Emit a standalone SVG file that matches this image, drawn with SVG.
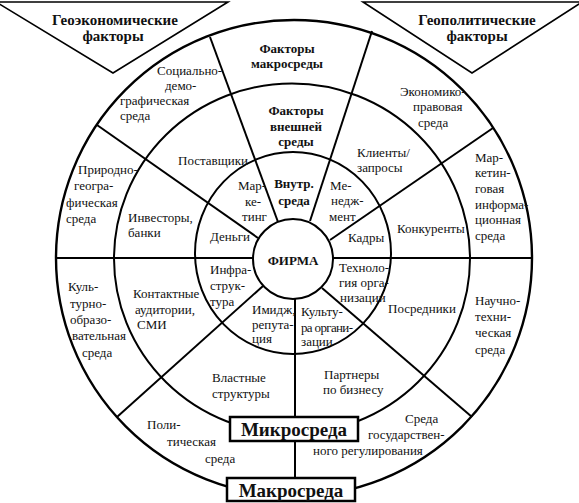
<svg xmlns="http://www.w3.org/2000/svg" width="579" height="503" viewBox="0 0 579 503">
<style>
.ln{stroke:#000;stroke-width:2;fill:none}
.bx{stroke:#000;stroke-width:2.5;fill:#fff}
.t{font-family:"Liberation Serif","Times New Roman",serif;font-size:13px;fill:#111}
.b{font-weight:bold}
.m{text-anchor:middle}
.big{font-size:19px}
.tri{font-size:15px}
</style>
<rect width="579" height="503" fill="#fff"/>
<g id="geoeconomic">
<polygon class="bx" points="-4,2 228,2 113,73" style="stroke-width:1.6"/>
<text class="t b m tri" x="115" y="25">Геоэкономические</text>
<text class="t b m tri" x="113" y="41">факторы</text>
</g>
<g id="geopolitical">
<polygon class="bx" points="363,2 582,2 472,73" style="stroke-width:1.6"/>
<text class="t b m tri" x="477" y="25">Геополитические</text>
<text class="t b m tri" x="477" y="41">факторы</text>
</g>
<g id="connectors">
<circle class="ln" cx="294" cy="258" r="238" style="stroke-width:2.4"/>
<ellipse class="ln" cx="292" cy="258.5" rx="178" ry="175"/>
<ellipse class="ln" cx="293" cy="253" rx="98" ry="101"/>
<line class="ln" x1="278" y1="222" x2="210" y2="37"/>
<line class="ln" x1="310" y1="221" x2="372" y2="31"/>
<line class="ln" x1="258" y1="238" x2="97" y2="125"/>
<line class="ln" x1="330" y1="240" x2="493" y2="128"/>
<line class="ln" x1="56" y1="258" x2="253" y2="258"/>
<line class="ln" x1="333" y1="258" x2="532" y2="258"/>
<line class="ln" x1="263" y1="286" x2="117" y2="417"/>
<line class="ln" x1="322" y1="288" x2="472" y2="417"/>
<line class="ln" x1="295" y1="299" x2="295" y2="487"/>
</g>
<g id="firma">
<circle class="ln" cx="293" cy="259" r="40" fill="#fff"/>
<text class="t b m" x="293" y="265" font-size="14">ФИРМА</text>
</g>
<g id="vnutr-sreda">
<text class="t b m" x="294" y="188">Внутр.</text>
<text class="t b m" x="294" y="205">среда</text>
</g>
<g id="marketing">
<text class="t" x="238" y="190">Мар-</text>
<text class="t" x="245" y="206">ке-</text>
<text class="t" x="242" y="221">тинг</text>
</g>
<g id="dengi"><text class="t" x="210" y="241">Деньги</text></g>
<g id="management">
<text class="t" x="330" y="190">Ме-</text>
<text class="t" x="331" y="205">недж-</text>
<text class="t" x="329" y="221">мент</text>
</g>
<g id="kadry"><text class="t" x="348" y="242">Кадры</text></g>
<g id="tekhnologiya">
<text class="t" x="339" y="272">Техноло-</text>
<text class="t" x="339" y="287">гия  орга-</text>
<text class="t" x="340" y="302">низации</text>
</g>
<g id="kultura">
<text class="t" x="301" y="316">Культу-</text>
<text class="t" x="301" y="332" textLength="52">ра органи-</text>
<text class="t" x="301" y="346">зации</text>
</g>
<g id="imidzh">
<text class="t" x="252" y="314">Имидж,</text>
<text class="t" x="252" y="329">репута-</text>
<text class="t" x="252" y="343">ция</text>
</g>
<g id="infrastruktura">
<text class="t" x="210" y="274">Инфра-</text>
<text class="t" x="210" y="290">струк-</text>
<text class="t" x="210" y="306">тура</text>
</g>
<g id="vneshnyaya">
<text class="t b m" x="296" y="115" font-size="13.5">Факторы</text>
<text class="t b m" x="296" y="131" font-size="13.5">внешней</text>
<text class="t b m" x="296" y="146" font-size="13.5">среды</text>
</g>
<g id="postavshchiki"><text class="t" x="178" y="165">Поставщики</text></g>
<g id="investory">
<text class="t" x="128" y="222">Инвесторы,</text>
<text class="t" x="128" y="237">банки</text>
</g>
<g id="kontaktnye">
<text class="t" x="133" y="298">Контактные</text>
<text class="t" x="135" y="314">аудитории,</text>
<text class="t" x="137" y="329">СМИ</text>
</g>
<g id="vlastnye">
<text class="t" x="212" y="382">Властные</text>
<text class="t" x="212" y="398">структуры</text>
</g>
<g id="partnery">
<text class="t" x="324" y="379">Партнеры</text>
<text class="t" x="323" y="394">по бизнесу</text>
</g>
<g id="posredniki"><text class="t" x="388" y="313">Посредники</text></g>
<g id="konkurenty"><text class="t" x="397" y="233">Конкуренты</text></g>
<g id="klienty">
<text class="t" x="357" y="157">Клиенты/</text>
<text class="t" x="357" y="172">запросы</text>
</g>
<g id="makrosreda-factors">
<text class="t b m" x="287" y="53" font-size="13.5">Факторы</text>
<text class="t b m" x="287" y="68" font-size="13.5">макросреды</text>
</g>
<g id="ekonomiko">
<text class="t" x="400" y="96">Экономико-</text>
<text class="t" x="413" y="111">правовая</text>
<text class="t" x="418" y="127">среда</text>
</g>
<g id="marketingovaya">
<text class="t" x="475" y="162">Мар-</text>
<text class="t" x="475" y="177">кетин-</text>
<text class="t" x="475" y="193">говая</text>
<text class="t" x="475" y="209">информа-</text>
<text class="t" x="475" y="224">ционная</text>
<text class="t" x="475" y="240">среда</text>
</g>
<g id="nauchno">
<text class="t" x="475" y="305">Научно-</text>
<text class="t" x="475" y="321">техни-</text>
<text class="t" x="475" y="337">ческая</text>
<text class="t" x="475" y="354">среда</text>
</g>
<g id="gosreg">
<text class="t" x="405" y="423">Среда</text>
<text class="t" x="368" y="439">государствен-</text>
<text class="t" x="313" y="455">ного регулирования</text>
</g>
<g id="politicheskaya">
<text class="t" x="147" y="429">Поли-</text>
<text class="t" x="167" y="446">тическая</text>
<text class="t" x="205" y="463">среда</text>
</g>
<g id="kulturno">
<text class="t" x="68" y="291">Куль-</text>
<text class="t" x="70" y="308">турно-</text>
<text class="t" x="70" y="324">образо-</text>
<text class="t" x="72" y="340">вательная</text>
<text class="t" x="82" y="357">среда</text>
</g>
<g id="prirodno">
<text class="t" x="78" y="174">Природно-</text>
<text class="t" x="74" y="190">геогра-</text>
<text class="t" x="66" y="207">фическая</text>
<text class="t" x="66" y="223">среда</text>
</g>
<g id="socialno">
<text class="t" x="157" y="75">Социально-</text>
<text class="t" x="165" y="90">демо-</text>
<text class="t" x="120" y="105">графическая</text>
<text class="t" x="120" y="120">среда</text>
</g>
<g id="mikrosreda">
<rect class="bx" x="230" y="417" width="128" height="24"/>
<text class="t b m big" x="294" y="436">Микросреда</text>
</g>
<g id="makrosreda">
<rect class="bx" x="227" y="478" width="128" height="23"/>
<text class="t b m big" x="291" y="497">Макросреда</text>
</g>
</svg>
